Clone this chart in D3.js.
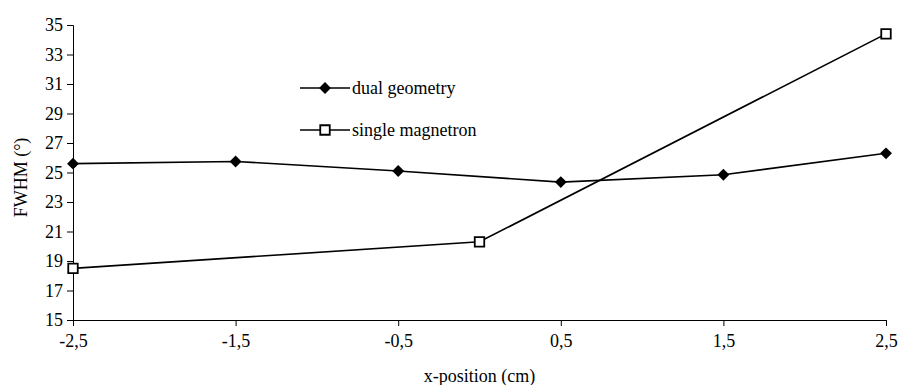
<!DOCTYPE html>
<html>
<head>
<meta charset="utf-8">
<script src="https://cdn.jsdelivr.net/npm/d3@7"></script>
<style>
body { margin: 0; background: #fff; }
</style>
</head>
<body>
<div></div>
<script>
var width = 904;
var height = 385;
var font = "'Liberation Serif', 'Times New Roman', Times, 'DejaVu Serif', serif";

// data
var dualX = [-2.5, -1.5, -0.5, 0.5, 1.5, 2.5];
var dualY = [25.6, 25.75, 25.1, 24.35, 24.85, 26.3];
var singleX = [-2.5, 0, 2.5];
var singleY = [18.5, 20.3, 34.4];
var xTicks = [-2.5, -1.5, -0.5, 0.5, 1.5, 2.5];
var yTicks = [15, 17, 19, 21, 23, 25, 27, 29, 31, 33, 35];

var margin = {left: 73, right: 18, top: 25, bottom: 65};

var svg = d3.select("div")
	.append("svg")
	.attr("width", width)
	.attr("height", height)
	.style("font-family", font);

var x = d3.scaleLinear().domain([-2.5, 2.5]).range([margin.left, width - margin.right]);
var y = d3.scaleLinear().domain([15, 35]).range([height - margin.bottom, margin.top]);

var fmt = d => String(d).replace(".", ",");

svg.append("g")
	.attr("transform", "translate(0," + y(15) + ")")
	.call(d3.axisBottom(x).tickValues(xTicks).tickSize(6).tickPadding(8).tickFormat(fmt));

svg.append("g")
	.attr("transform", "translate(" + x(-2.5) + ",0)")
	.call(d3.axisLeft(y).tickValues(yTicks).tickSize(6).tickPadding(4));

svg.selectAll(".domain, .tick line").attr("stroke", "#000").attr("stroke-width", 1);
svg.selectAll(".tick text").attr("font-size", 18).attr("fill", "#000");

svg.append("text")
	.attr("x", (margin.left + width - margin.right) / 2)
	.attr("y", 382)
	.attr("text-anchor", "middle")
	.attr("font-size", 18)
	.text("x-position (cm)");

svg.append("text")
	.attr("transform", "translate(27," + (y(25) + 5) + ") rotate(-90)")
	.attr("text-anchor", "middle")
	.attr("font-size", 18)
	.text("FWHM (°)");

var line = d3.line().x(d => x(d[0])).y(d => y(d[1]));
var dual = dualX.map((v, i) => [v, dualY[i]]);
var single = singleX.map((v, i) => [v, singleY[i]]);

svg.append("path").datum(dual).attr("d", line)
	.attr("fill", "none").attr("stroke", "#000").attr("stroke-width", 1.6);
svg.append("path").datum(single).attr("d", line)
	.attr("fill", "none").attr("stroke", "#000").attr("stroke-width", 1.6);

var diamond = d3.symbol().type(d3.symbolDiamond2).size(90);
var square = d3.symbol().type(d3.symbolSquare).size(90);

svg.append("g").selectAll("path").data(dual).enter().append("path")
	.attr("d", diamond)
	.attr("transform", d => "translate(" + x(d[0]) + "," + y(d[1]) + ")")
	.attr("fill", "#000");

svg.append("g").selectAll("path").data(single).enter().append("path")
	.attr("d", square)
	.attr("transform", d => "translate(" + x(d[0]) + "," + y(d[1]) + ")")
	.attr("fill", "#fff").attr("stroke", "#000").attr("stroke-width", 1.8);

// legend
var legend = [
	{name: "dual geometry", sym: diamond, fill: "#000", stroke: "none", yy: 88},
	{name: "single magnetron", sym: square, fill: "#fff", stroke: "#000", yy: 130}
];
var lg = svg.append("g").selectAll("g").data(legend).enter().append("g")
	.attr("transform", d => "translate(300," + d.yy + ")");
lg.append("line").attr("x1", 0).attr("x2", 50).attr("stroke", "#000").attr("stroke-width", 1.6);
lg.append("path").attr("d", d => d.sym()).attr("transform", "translate(25,0)")
	.attr("fill", d => d.fill).attr("stroke", d => d.stroke).attr("stroke-width", 1.8);
lg.append("text").attr("x", 52).attr("y", 6).attr("font-size", 18).text(d => d.name);

svg.selectAll("text").style("font-family", font);
</script>
</body>
</html>
